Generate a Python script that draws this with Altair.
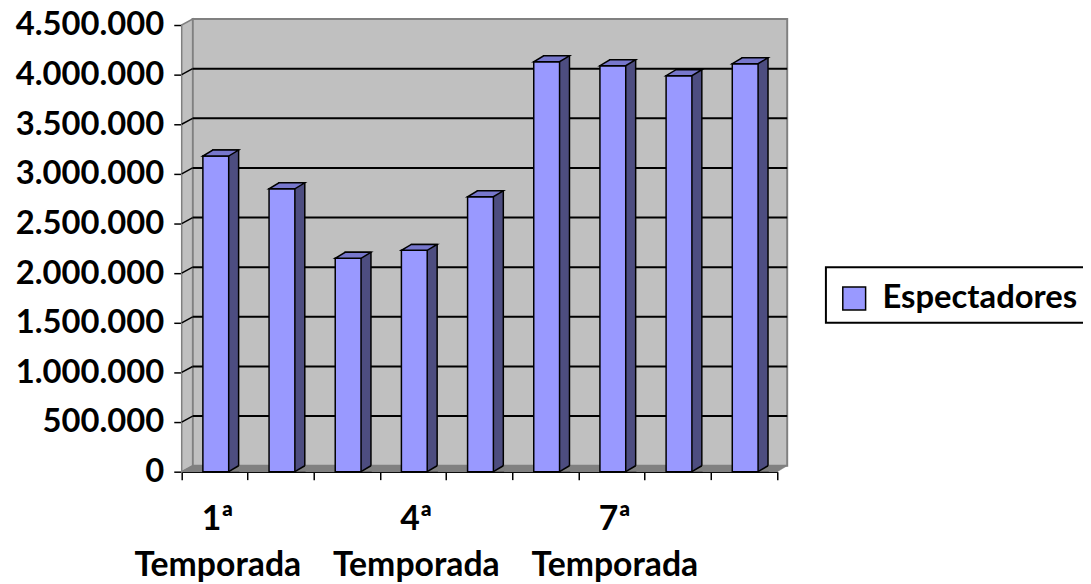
import json
import altair as alt
import pandas as pd

# ---------------- data ----------------
temporadas = ["1ª Temporada", "2ª Temporada", "3ª Temporada", "4ª Temporada",
              "5ª Temporada", "6ª Temporada", "7ª Temporada", "8ª Temporada",
              "9ª Temporada"]
espectadores = [3180000, 2850000, 2150000, 2230000, 2770000,
                4130000, 4090000, 3990000, 4110000]
serie = "Espectadores"
etiquetas_x = ["1ª Temporada", "4ª Temporada", "7ª Temporada"]
ticks_y = [0, 500000, 1000000, 1500000, 2000000, 2500000,
           3000000, 3500000, 4000000, 4500000]
grid_y = ticks_y[1:-1]

df = pd.DataFrame({"temporada": temporadas, "espectadores": espectadores,
                   "serie": [serie] * len(temporadas)})
grid_df = pd.DataFrame({"v": grid_y})
one = pd.DataFrame({"k": [0]})

# ---------------- style ----------------
FONT = "Lato"
W, H = 600, 450
DX, DY = 11, -6          # depth of the 3D walls
FRONT, TOP, SIDE = "#9999ff", "#7777cc", "#4d4d80"
WALL, FLOOR, EDGE = "#c0c0c0", "#808080", "#808080"
YMAX = ticks_y[-1]

x_scale = alt.Scale(domain=temporadas, paddingInner=0, paddingOuter=0)
y_scale = alt.Scale(domain=[0, YMAX], nice=False, zero=True)

shown = json.dumps(etiquetas_x, ensure_ascii=False)
x_axis = alt.Axis(
    title=None, bandPosition=1, tickExtra=True, labelOffset=3,
    labelExpr=f"indexof({shown}, datum.value) >= 0 ? split(datum.value, ' ') : ''",
    labelFont=FONT, labelFontSize=34, labelFontWeight="bold", labelColor="black",
    labelLineHeight=47, labelPadding=23, labelAngle=0, labelAlign="center",
    labelBaseline="top", labelLimit=0, labelOverlap=False,
    tickSize=8, tickColor="black", tickWidth=1.5,
    domainColor="black", domainWidth=1.5, grid=False)
y_axis = alt.Axis(
    title=None, values=ticks_y,
    labelExpr="replace(format(datum.value, ',d'), regexp(',', 'g'), '.')",
    labelFont=FONT, labelFontSize=33, labelFontWeight="bold", labelColor="black",
    labelPadding=10, labelOverlap=False, labelFlush=False,
    tickSize=8, tickColor="black", tickWidth=1.5,
    domainColor="black", domainWidth=1.5, grid=False)

# back wall
wall = alt.Chart(one).mark_rect(fill=WALL, stroke=EDGE, strokeWidth=2,
                                yOffset=DY, y2Offset=DY).encode(
    x=alt.value(DX), x2=alt.value(W + DX - 1),
    y=alt.datum(YMAX), y2=alt.datum(0))
# left side wall
side_wall = alt.Chart(one).mark_point(
    shape=f"M0,0 L0,{-H} L{DX},{-H + DY} L{DX},{DY} Z", size=4, filled=True,
    fill=WALL, stroke=EDGE, strokeWidth=1.5, opacity=1).encode(
    x=alt.value(0), y=alt.datum(0))
# floor
floor = alt.Chart(one).mark_point(
    shape=f"M0,0 L{W},0 L{W + DX - 1},{DY} L{DX},{DY} Z", size=4, filled=True,
    fill=FLOOR, stroke=FLOOR, strokeWidth=0.5, opacity=1).encode(
    x=alt.value(0), y=alt.datum(0))
# gridlines on the back wall
grid = alt.Chart(grid_df).mark_rule(color="black", strokeWidth=2, yOffset=DY).encode(
    x=alt.value(DX), x2=alt.value(W + DX - 1),
    y=alt.Y("v:Q", scale=y_scale, axis=y_axis))
grid_side = alt.Chart(grid_df).mark_rule(color="black", strokeWidth=1.5, y2Offset=DY).encode(
    x=alt.value(0), x2=alt.value(DX), y=alt.Y("v:Q", scale=y_scale), y2="v:Q")

xenc = alt.X("temporada:N", sort=temporadas, scale=x_scale, axis=x_axis)
yenc = alt.Y("espectadores:Q", scale=y_scale, stack=None)
base = alt.Chart(df)

# bar side faces
side = base.mark_bar(size=26, fill=SIDE, stroke="black", strokeWidth=1.5,
                     xOffset=11, yOffset=DY).encode(x=xenc, y=yenc)
side_fix = base.mark_point(shape="M14,0 L24,-6 L25.5,-6 L25.5,0 Z", size=4, filled=True,
                           fill=FLOOR, strokeWidth=0, opacity=1).encode(
    x=xenc, y=alt.datum(0))
side_line = base.mark_point(shape="M14,0 L24,-6", size=4, filled=False,
                            stroke="black", strokeWidth=1.5, opacity=1).encode(
    x=xenc, y=alt.datum(0))
# bar front faces (with legend)
front = base.mark_bar(size=26, stroke="black", strokeWidth=1.5, xOffset=1).encode(
    x=xenc, y=yenc,
    color=alt.Color("serie:N", scale=alt.Scale(domain=[serie], range=[FRONT]),
                    legend=alt.Legend(
                        title=None, orient="none", legendX=661, legendY=259,
                        symbolType="square", symbolSize=529, symbolStrokeColor="black",
                        symbolStrokeWidth=1.5, symbolFillColor=FRONT,
                        labelFont=FONT, labelFontSize=33, labelFontWeight="bold",
                        labelColor="black", labelOffset=12, labelLimit=0, padding=0)))
# bar top faces
top = base.mark_point(shape="M-12,0 L14,0 L24,-6 L-2,-6 Z", size=4, filled=True,
                      fill=TOP, stroke="black", strokeWidth=1.5, opacity=1).encode(
    x=xenc, y=yenc)
# legend frame
legend_box = alt.Chart(one).mark_rect(fill="white", stroke="black", strokeWidth=2).encode(
    x=alt.value(649), x2=alt.value(1000), y=alt.value(244), y2=alt.value(300))

chart = alt.layer(wall, side_wall, floor, grid, grid_side, side, side_fix, side_line,
                  front, top, legend_box).properties(
    width=W, height=H,
    padding={"left": 175, "top": 15, "right": 308, "bottom": 111},
    autosize=alt.AutoSizeParams(type="none"),
    background="white",
).configure_view(stroke=None)

chart.save("out.html", embed_options={"renderer": "svg", "actions": False})
